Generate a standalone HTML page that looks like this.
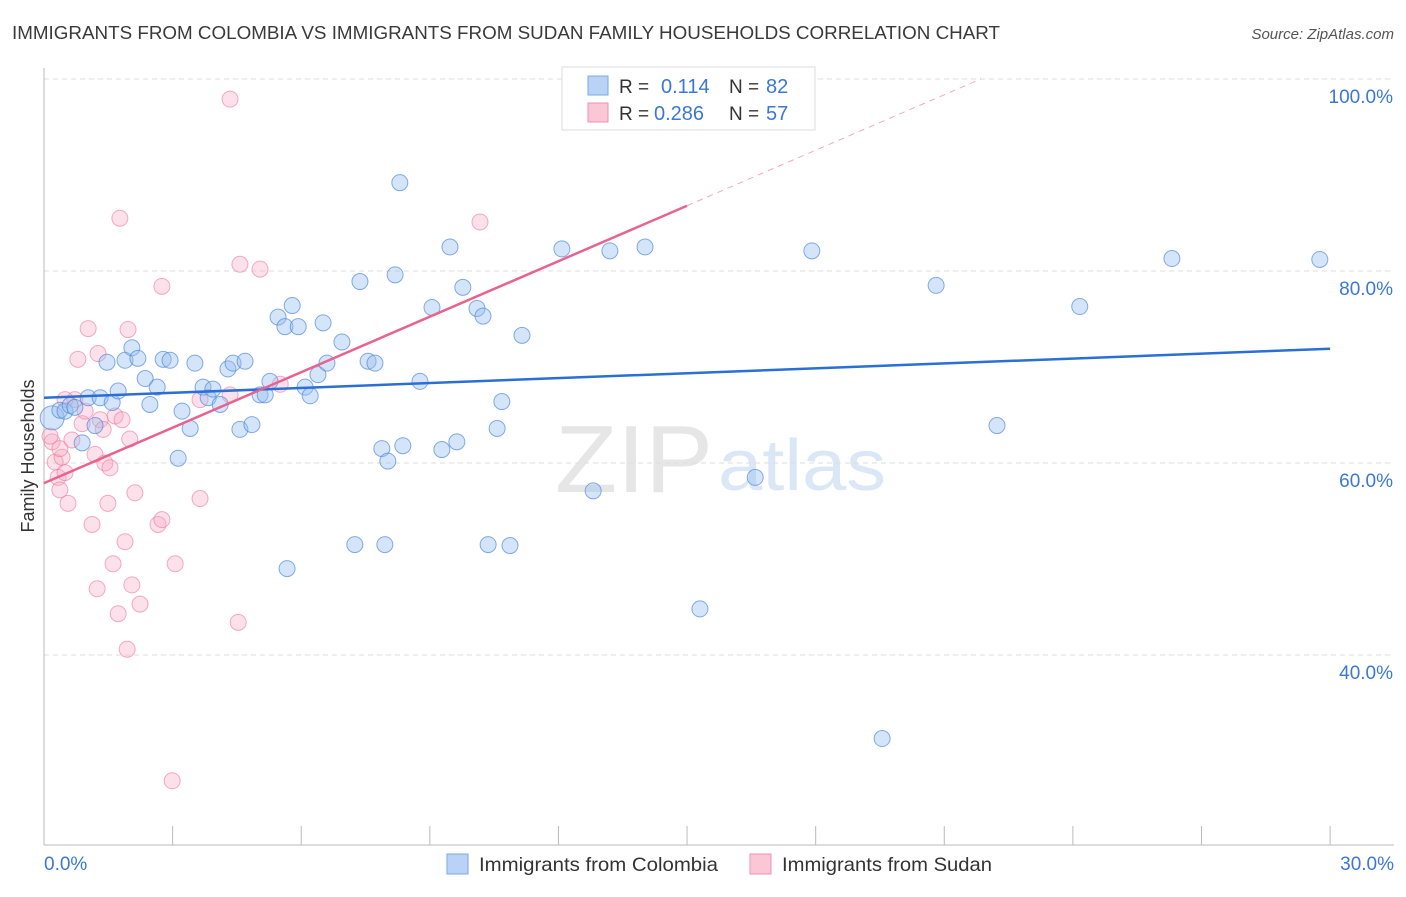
<!DOCTYPE html>
<html><head><meta charset="utf-8"><style>
body{margin:0;background:#fff;font-family:"Liberation Sans",sans-serif;}
svg text{font-family:"Liberation Sans",sans-serif;}
</style></head><body>
<svg id="chart" width="1406" height="892" xmlns="http://www.w3.org/2000/svg">
<text x="12" y="39" font-size="18.5" fill="#3a3a3a" textLength="988" lengthAdjust="spacingAndGlyphs">IMMIGRANTS FROM COLOMBIA VS IMMIGRANTS FROM SUDAN FAMILY HOUSEHOLDS CORRELATION CHART</text>
<text x="1394" y="39" font-size="15" fill="#555" text-anchor="end" font-style="italic">Source: ZipAtlas.com</text>
<text x="555" y="492" font-size="96" fill="#e6e6e6" font-family="Liberation Serif" textLength="158" lengthAdjust="spacingAndGlyphs">ZIP</text>
<text x="718" y="490" font-size="72" fill="#dbe7f6" textLength="168" lengthAdjust="spacingAndGlyphs">atlas</text>
<g id="grid"></g><g id="axes"></g><g id="pts"></g><g id="lines"></g>
<text transform="translate(34,456) rotate(-90)" font-size="18" fill="#333" text-anchor="middle">Family Households</text>
<g>
<rect x="562" y="67" width="253" height="63" fill="#fff" stroke="#ddd"/>
<rect x="588" y="76" width="20" height="19" fill="#b8d3f5" stroke="#7aa8e6"/>
<text x="619" y="93" font-size="19" fill="#333">R =</text><text x="661" y="93" font-size="20" fill="#3a78d4">0.114</text>
<text x="729" y="93" font-size="19" fill="#333">N =</text><text x="766" y="93" font-size="20" fill="#3a78d4">82</text>
<rect x="588" y="103" width="20" height="19" fill="#fbc6d6" stroke="#ef93b0"/>
<text x="619" y="120" font-size="19" fill="#333">R =</text><text x="654" y="120" font-size="20" fill="#3a78d4">0.286</text>
<text x="729" y="120" font-size="19" fill="#333">N =</text><text x="766" y="120" font-size="20" fill="#3a78d4">57</text>
</g>
<g>
<rect x="447" y="854" width="21" height="20" fill="#b8d3f5" stroke="#7aa8e6"/>
<text x="479" y="871" font-size="19.5" fill="#333" textLength="239" lengthAdjust="spacingAndGlyphs">Immigrants from Colombia</text>
<rect x="750" y="854" width="21" height="20" fill="#fbc6d6" stroke="#ef93b0"/>
<text x="782" y="871" font-size="19.5" fill="#333" textLength="210" lengthAdjust="spacingAndGlyphs">Immigrants from Sudan</text>
</g>
</svg>
<script>
const yTicks=[40,60,80,100];
const xTickLabels=["0.0%","30.0%"];
const blueX=[0.19,0.37,0.49,0.61,0.72,0.89,1.03,1.19,1.31,1.47,1.59,1.73,1.89,2.05,2.19,2.36,2.47,2.64,2.78,2.94,3.13,3.22,3.41,3.52,3.71,3.83,3.94,4.11,4.29,4.41,4.57,4.69,4.85,5.04,5.16,5.27,5.46,5.62,5.79,5.93,6.09,6.21,6.39,6.51,6.6,6.95,7.25,7.37,7.56,7.72,7.88,8.02,8.19,8.3,8.37,8.77,9.05,9.28,9.47,9.63,9.77,10.1,10.24,10.36,10.57,10.68,10.87,11.15,12.08,12.81,13.2,14.02,15.3,16.59,17.91,19.55,20.81,22.23,24.16,26.31,29.76,5.67,7.95];
const blueY=[64.7,65.5,65.4,66,65.8,62.1,66.8,63.9,66.8,70.5,66.3,67.5,70.7,72,70.9,68.8,66.1,67.9,70.8,70.7,60.5,65.4,63.6,70.4,67.9,66.8,67.7,66.1,69.8,70.4,63.5,70.6,64,67.1,67.1,68.5,75.2,74.2,76.4,74.2,67.9,67,69.2,74.6,70.4,72.6,51.5,78.9,70.6,70.4,61.5,60.2,79.6,89.2,61.8,68.5,76.2,61.4,82.5,62.2,78.3,76.1,75.3,51.5,63.6,66.4,51.4,73.3,82.3,57.1,82.1,82.5,44.8,58.5,82.1,31.3,78.5,63.9,76.3,81.3,81.2,49,51.5];
const pinkX=[0.19,0.26,0.33,0.37,0.42,0.49,0.56,0.65,0.72,0.79,0.89,0.96,1.03,1.12,1.19,1.26,1.31,1.38,1.42,1.49,1.54,1.61,1.66,1.73,1.77,1.82,1.89,1.94,1.96,2.0,2.05,2.12,2.24,2.75,2.66,2.75,3.06,3.64,3.64,4.34,4.34,4.53,4.57,5.04,5.51,2.99,10.17,1.24,0.49,0.14,0.37];
const pinkY=[62.2,60.1,58.5,57.2,60.6,59,55.8,62.4,66.6,70.8,64.1,65.4,74,53.6,60.9,71.4,64.5,63.5,60,55.8,59.5,49.5,64.9,44.3,85.5,64.5,51.8,40.6,73.9,62.5,47.3,56.9,45.3,78.4,53.6,54.1,49.5,56.3,66.6,97.9,67.1,43.4,80.7,80.2,68.2,26.9,85.1,46.9,66.6,62.8,61.5];
const blueLine=[66.8,71.9];
const pinkLine=[57.9,86.8];
const sx=v=>44+v*42.87, sy=v=>79+(100-v)*9.6;
const NS="http://www.w3.org/2000/svg";
function mk(p,t,a){const e=document.createElementNS(NS,t);for(const k in a)e.setAttribute(k,a[k]);document.getElementById(p).appendChild(e);return e;}
yTicks.forEach(t=>{
 const l=mk('grid','line',{x1:44,x2:1394,y1:sy(t),y2:sy(t),stroke:'#ddd','stroke-dasharray':'5,4'});
 
 
 const tx=mk('grid','text',{x:1393,y:sy(t)+24,'font-size':19,fill:'#3a78d4','text-anchor':'end'});tx.textContent=t.toFixed(1)+'%';
 
 
});
const ax=mk('axes','line',{x1:44,x2:44,y1:68,y2:845,stroke:'#bbb'});


const bx=mk('axes','line',{x1:44,x2:1394,y1:845,y2:845,stroke:'#bbb'});


for(let i=0;i<=10;i++){const t=mk('axes','line',{x1:sx(i*3),x2:sx(i*3),y1:826,y2:845,stroke:'#bbb'});
 
 }
[[0,'start',44],[1,'end',1394]].forEach(([i,a,x])=>{const t=mk('axes','text',{x:x,y:870,'font-size':19,fill:'#3a78d4','text-anchor':a});t.textContent=xTickLabels[i];
 
 });
pinkX.forEach((x,i)=>{const c=mk('pts','circle',{cx:sx(x),cy:sy(pinkY[i]),r:8,fill:'rgba(248,170,195,0.35)',stroke:'rgba(236,120,155,0.6)','stroke-width':1});
 
 });
blueX.forEach((x,i)=>{const c=mk('pts','circle',{cx:sx(x),cy:sy(blueY[i]),r:i==0?12:8,fill:'rgba(150,190,240,0.4)',stroke:'rgba(70,130,215,0.65)','stroke-width':1});
 
 });
const bl=mk('lines','line',{x1:sx(0),y1:sy(blueLine[0]),x2:sx(30),y2:sy(blueLine[1]),stroke:'#2a6fd6','stroke-width':2.5});


const ps=(pinkLine[1]-pinkLine[0])/15, pe=(100-pinkLine[0])/ps;
const pl=mk('lines','line',{x1:sx(0),y1:sy(pinkLine[0]),x2:sx(15),y2:sy(pinkLine[1]),stroke:'#e8638f','stroke-width':2.5});


const pd=mk('lines','line',{x1:sx(15),y1:sy(pinkLine[1]),x2:sx(pe),y2:sy(100),stroke:'#eeaabf','stroke-width':1,'stroke-dasharray':'6,5'});


</script>
</body></html>
